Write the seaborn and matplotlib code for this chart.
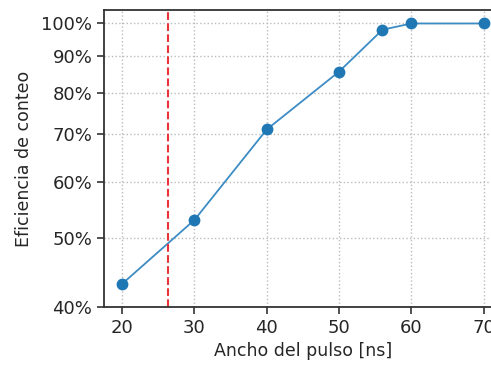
import pandas as pd
import matplotlib.pyplot as plt
import matplotlib.ticker as mticker
import seaborn as sns

# Datos
ancho_pulso = [20, 30, 40, 50, 56, 60, 70]
eficiencia = [0.431, 0.530, 0.710, 0.856, 0.980, 1.0, 1.0]
umbral_ns = 26.3
yticks = [0.4, 0.5, 0.6, 0.7, 0.8, 0.9, 1.0]
xticks = [20, 30, 40, 50, 60, 70]

df = pd.DataFrame({'ancho': ancho_pulso, 'eficiencia': eficiencia})

sns.set_style('ticks')
plt.rcParams['font.family'] = ['DejaVu Sans']

fig = plt.figure(figsize=(4.91, 3.65), dpi=100)
ax = fig.add_axes([0.212, 0.159, 0.81, 0.814])

sns.lineplot(data=df, x='ancho', y='eficiencia', marker='o', color='#1f77b4',
             markersize=8.5, linewidth=1.3, markeredgewidth=0, ax=ax)
ax.lines[0].set_color('#3d8cc4')
ax.lines[0].set_markerfacecolor('#1f77b4')
ax.axvline(umbral_ns, color='#e8333a', linestyle='--', linewidth=1.5)

ax.set_yscale('log')
ax.set_ylim(0.4, 1.045)
ax.set_xlim(17.5, 72.5)
ax.yaxis.set_major_locator(mticker.FixedLocator(yticks))
ax.yaxis.set_minor_locator(mticker.NullLocator())
ax.yaxis.set_major_formatter(mticker.FuncFormatter(lambda v, p: f'{v*100:.0f}%'))
ax.set_xticks(xticks)

ax.grid(True, linestyle=':', color='#bbbbbb', linewidth=1)
for s in ax.spines.values():
    s.set_color('#333333')
    s.set_linewidth(1.3)

ax.tick_params(labelsize=13, length=5, width=1.2, color='#333333')
ax.set_xlabel('Ancho del pulso [ns]', fontsize=12.5)
ax.set_ylabel('Eficiencia de conteo', fontsize=12.5, labelpad=6)

plt.savefig('out.png', dpi=100)
